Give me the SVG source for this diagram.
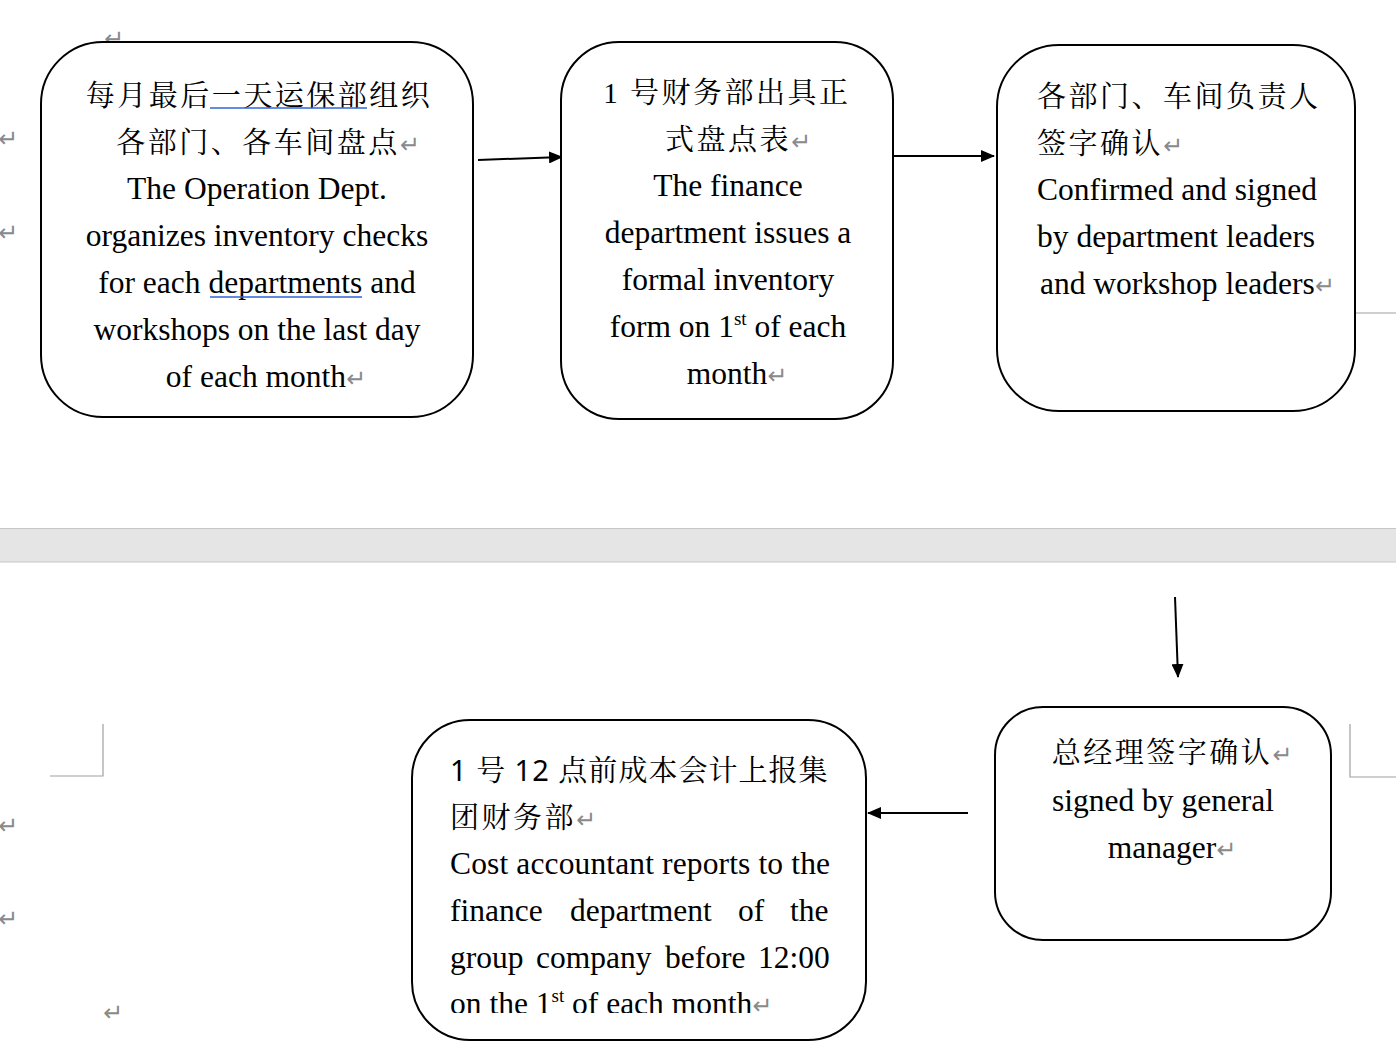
<svg xmlns="http://www.w3.org/2000/svg" width="1396" height="1047" viewBox="0 0 1396 1047">
<style>
.box{fill:#fff;stroke:#000;stroke-width:2}
.en{font-family:"Liberation Serif",serif;font-size:31.5px;fill:#000}
.zh{font-family:"Noto Serif CJK SC","Noto Sans CJK SC",serif;font-size:29px;fill:#000;letter-spacing:2.5px}
.num{font-family:"Noto Sans","Liberation Sans",sans-serif;font-size:29px}
.pm{font-family:"DejaVu Sans",sans-serif;font-size:24px;fill:#8a8a8a;letter-spacing:0}
.mark{stroke:#a0a0a0;stroke-width:1.2;fill:none}
.conn{stroke:#000;stroke-width:2;fill:none;marker-end:url(#ah)}
.ul{stroke:#2f64d8;stroke-width:1.3}
</style>
<defs>
<marker id="ah" viewBox="0 0 14 12" refX="13" refY="6" markerWidth="14" markerHeight="12" markerUnits="userSpaceOnUse" orient="auto">
<path d="M0,0 L14,6 L0,12 Z" fill="#000"/>
</marker>
<clipPath id="clipb"><rect x="0" y="0" width="1396" height="1013"/></clipPath>
</defs>
<rect width="1396" height="1047" fill="#fff"/>
<g id="page-break">
<rect x="0" y="528" width="1396" height="34" fill="#e5e5e5"/>
<line x1="0" y1="528.5" x2="1396" y2="528.5" stroke="#c6c6c6" stroke-width="1"/>
<line x1="0" y1="562" x2="1396" y2="562" stroke="#c6c6c6" stroke-width="1"/>
</g>
<g id="margin-marks">
<path class="mark" d="M103,724 V776 H50"/>
<path class="mark" d="M1350,724 V777 H1396"/>
<line class="mark" x1="1355" y1="313" x2="1396" y2="313"/>
<text class="pm" x="-2" y="147">↵</text>
<text class="pm" x="-2" y="241">↵</text>
<text class="pm" x="104" y="47">↵</text>
<text class="pm" x="-2" y="834">↵</text>
<text class="pm" x="-2" y="927">↵</text>
<text class="pm" x="103" y="1021">↵</text>
</g>
<g id="connectors">
<line class="conn" x1="478" y1="160" x2="562" y2="157"/>
<line class="conn" x1="889" y1="156" x2="994" y2="156"/>
<line class="conn" x1="1175" y1="597" x2="1178" y2="677"/>
<line class="conn" x1="968" y1="813" x2="868" y2="813"/>
</g>
<g id="node1">
<rect class="box" x="41" y="42" width="432" height="375" rx="62"/>
<text class="zh" x="259" y="106" text-anchor="middle">每月最后一天运保部组织</text>
<line class="ul" x1="210" y1="108" x2="367" y2="108"/>
<text class="zh" x="268" y="153" text-anchor="middle">各部门、各车间盘点<tspan class="pm">↵</tspan></text>
<text class="en" x="257" y="199" text-anchor="middle">The Operation Dept.</text>
<text class="en" x="257" y="246" text-anchor="middle">organizes inventory checks</text>
<text class="en" x="257" y="293" text-anchor="middle">for each departments and</text>
<line class="ul" x1="210" y1="297" x2="362" y2="297"/>
<text class="en" x="257" y="340" text-anchor="middle">workshops on the last day</text>
<text class="en" x="266" y="387" text-anchor="middle">of each month<tspan class="pm">↵</tspan></text>
</g>
<g id="node2">
<rect class="box" x="561" y="42" width="332" height="377" rx="58"/>
<text class="zh" x="727" y="103" text-anchor="middle"><tspan font-family="Liberation Serif">1 </tspan>号财务部出具正</text>
<text class="zh" x="738" y="150" text-anchor="middle">式盘点表<tspan class="pm">↵</tspan></text>
<text class="en" x="728" y="196" text-anchor="middle">The finance</text>
<text class="en" x="728" y="243" text-anchor="middle">department issues a</text>
<text class="en" x="728" y="290" text-anchor="middle">formal inventory</text>
<text class="en" x="728" y="337" text-anchor="middle">form on 1<tspan font-size="19" dy="-12">st</tspan><tspan dy="12"> of each</tspan></text>
<text class="en" x="737" y="384" text-anchor="middle">month<tspan class="pm">↵</tspan></text>
</g>
<g id="node3">
<rect class="box" x="997" y="45" width="358" height="366" rx="62"/>
<text class="zh" x="1037" y="107">各部门、车间负责人</text>
<text class="zh" x="1037" y="154">签字确认<tspan class="pm">↵</tspan></text>
<text class="en" x="1037" y="200">Confirmed and signed</text>
<text class="en" x="1037" y="247">by department leaders</text>
<text class="en" x="1040" y="294">and workshop leaders<tspan class="pm">↵</tspan></text>
</g>
<g id="node4">
<rect class="box" x="995" y="707" width="336" height="233" rx="48"/>
<text class="zh" x="1172" y="763" text-anchor="middle">总经理签字确认<tspan class="pm">↵</tspan></text>
<text class="en" x="1163" y="811" text-anchor="middle">signed by general</text>
<text class="en" x="1172" y="858" text-anchor="middle">manager<tspan class="pm">↵</tspan></text>
</g>
<g id="node5">
<rect class="box" x="412" y="720" width="454" height="320" rx="58"/>
<text class="zh" x="450" y="781" textLength="380" lengthAdjust="spacing"><tspan class="num">1 </tspan>号 <tspan class="num">12 </tspan>点前成本会计上报集</text>
<text class="zh" x="450" y="828">团财务部<tspan class="pm">↵</tspan></text>
<text class="en" x="450" y="874" textLength="380" lengthAdjust="spacing">Cost accountant reports to the</text>
<text class="en" y="921"><tspan x="450">finance</tspan><tspan x="570">department</tspan><tspan x="738">of</tspan><tspan x="790">the</tspan></text>
<text class="en" y="968"><tspan x="450">group</tspan><tspan x="536">company</tspan><tspan x="665">before</tspan><tspan x="758">12:00</tspan></text>
<g clip-path="url(#clipb)">
<text class="en" x="450" y="1014">on the 1<tspan font-size="19" dy="-12">st</tspan><tspan dy="12"> of each month</tspan><tspan class="pm">↵</tspan></text>
</g>
</g>
</svg>
